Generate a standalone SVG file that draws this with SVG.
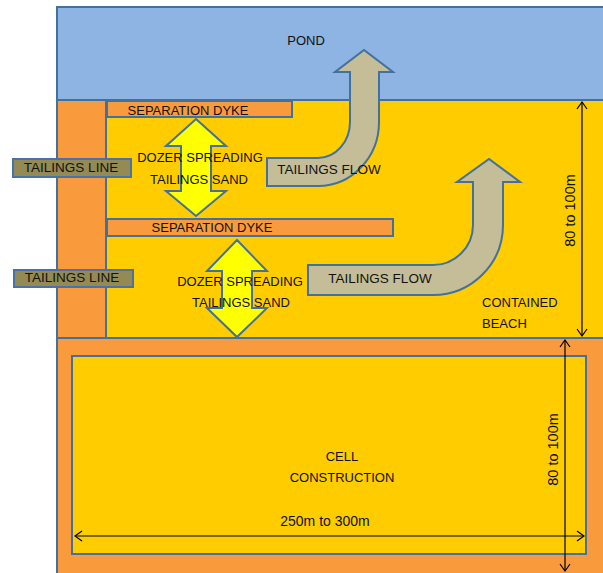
<svg xmlns="http://www.w3.org/2000/svg" width="603" height="573" viewBox="0 0 603 573">
<style>
.bd{stroke:#41719c;stroke-width:2}
.or{fill:#f99b3c}
.ye{fill:#ffcc00}
.t{font-family:"Liberation Sans",Arial,sans-serif;font-size:13px;fill:#111111;text-anchor:middle}
.tl{fill:#948a54;stroke:#4a72a8;stroke-width:2}
.da{fill:#ffff00;stroke:#41719c;stroke-width:2;stroke-linejoin:miter}
.fa{fill:#c4bd97;stroke:#41719c;stroke-width:2;stroke-linejoin:miter}
.dim{stroke:#000;stroke-width:1.2;fill:none}
</style>
<defs>
<marker id="chev" viewBox="-9 -7 11 14" markerWidth="11" markerHeight="14" markerUnits="userSpaceOnUse" refX="0" refY="0" orient="auto-start-reverse">
<path d="M-7,-5 L0,0 L-7,5" fill="none" stroke="#000" stroke-width="1.2"/>
</marker>
</defs>
<rect width="603" height="573" fill="#ffffff"/>

<g id="pond">
<rect x="57" y="7" width="560" height="93" fill="#8eb4e3" class="bd"/>
<text class="t" x="306" y="45">POND</text>
</g>

<g id="beach-area">
<rect x="57" y="100" width="49" height="238" class="or bd"/>
<rect x="106" y="100" width="510" height="238" class="ye bd"/>
<text class="t" x="482" y="307" style="text-anchor:start">CONTAINED</text>
<text class="t" x="482" y="328" style="text-anchor:start">BEACH</text>
</g>

<g id="dyke1">
<rect x="107" y="101" width="185" height="16" class="or bd"/>
<text class="t" x="188" y="115">SEPARATION  DYKE</text>
</g>

<g id="dyke2">
<rect x="107" y="219" width="286" height="17" class="or bd"/>
<text class="t" x="212" y="232">SEPARATION  DYKE</text>
</g>

<g id="tailings-line1">
<rect x="13" y="159" width="118" height="18" class="tl"/>
<text class="t" x="71" y="172" style="font-size:13.5px">TAILINGS LINE</text>
</g>

<g id="tailings-line2">
<rect x="14" y="270" width="119" height="17" class="tl"/>
<text class="t" x="72" y="282" style="font-size:13.5px">TAILINGS LINE</text>
</g>

<g id="dozer1">
<path class="da" d="M196,119 L226,146 L211,146 L211,191 L226,191 L196,216 L166,191 L181,191 L181,146 L166,146 Z"/>
<text class="t" x="200" y="162">DOZER SPREADING</text>
<text class="t" x="199" y="184">TAILINGS SAND</text>
</g>

<g id="dozer2">
<path class="da" d="M237,240 L267,271 L252,271 L252,308 L267,308 L237,337 L207,308 L222,308 L222,271 L207,271 Z"/>
<text class="t" x="240" y="286">DOZER SPREADING</text>
<text class="t" x="241" y="307">TAILINGS SAND</text>
</g>

<g id="flow1">
<path class="fa" d="M267,158 L318,158 A32,36 0 0 0 350,122 L350,72 L335,72 L364,50 L393,72 L379,72 L379,122 A61,64 0 0 1 318,186 L267,186 Z"/>
<text class="t" x="329" y="174" style="font-size:13.5px">TAILINGS FLOW</text>
</g>

<g id="flow2">
<path class="fa" d="M308,265 L433,265 A40,40 0 0 0 473,225 L473,182 L457,182 L489,159 L520,182 L503,182 L503,225 A70,70 0 0 1 433,295 L308,295 Z"/>
<text class="t" x="380" y="283" style="font-size:13.5px">TAILINGS FLOW</text>
</g>

<g id="cell">
<rect x="57" y="338" width="560" height="240" class="or bd"/>
<rect x="72" y="356" width="514" height="198" class="ye bd"/>
<text class="t" x="342" y="461">CELL</text>
<text class="t" x="342" y="482">CONSTRUCTION</text>
<text class="t" x="325" y="526" style="font-size:14px">250m  to 300m</text>
<text class="t" transform="translate(575,210.5) rotate(-90)" x="0" y="0" style="font-size:14.5px">80 to 100m</text>
<text class="t" transform="translate(558,449.5) rotate(-90)" x="0" y="0" style="font-size:14.5px">80 to 100m</text>
</g>

<g id="connectors">
<line class="dim" x1="582" y1="102" x2="582" y2="336" marker-start="url(#chev)" marker-end="url(#chev)"/>
<line class="dim" x1="75" y1="536" x2="584" y2="536" marker-start="url(#chev)" marker-end="url(#chev)"/>
<line class="dim" x1="565" y1="340" x2="565" y2="571" marker-start="url(#chev)" marker-end="url(#chev)"/>
</g>
</svg>
